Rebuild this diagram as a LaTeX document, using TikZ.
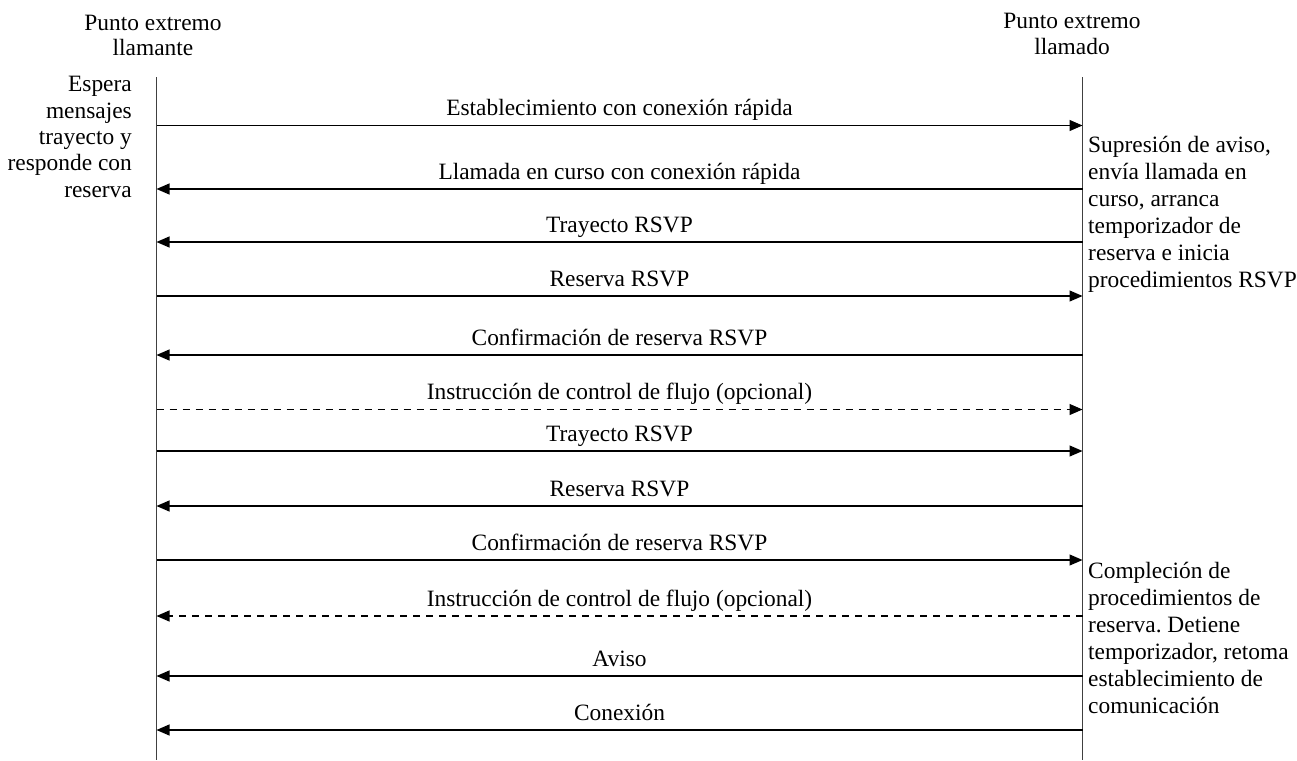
\documentclass[tikz,border=0pt]{standalone}
\usepackage{fontspec}
\setmainfont{Liberation Serif}
\usetikzlibrary{arrows.meta}
\frenchspacing
\begin{document}
\begin{tikzpicture}[x=1pt,y=-1pt,
  font=\fontsize{23.4}{26.5}\selectfont,
  life/.style={line width=1.1pt,draw=black!75},
  msg/.style={line width=1.1pt,-{Triangle[length=13pt,width=11pt]}},
  opt/.style={msg,dash pattern=on 7pt off 6pt},
  lbl/.style={anchor=base,yshift=10pt,inner sep=0pt},
  note/.style={inner sep=0pt,font=\fontsize{23.4}{27}\selectfont}]
\useasboundingbox (0,0) rectangle (1297,760);
% headers (anchor base = baseline of last line)
\node[anchor=base,align=center,inner sep=0pt,font=\fontsize{23.4}{25.5}\selectfont] (hL) at (153,56) {Punto extremo\\llamante};
\node[anchor=base,align=center,inner sep=0pt,font=\fontsize{23.4}{26.5}\selectfont] (hR) at (1072,55) {Punto extremo\\llamado};
% lifelines
\coordinate (Ltop) at (156.5,77);
\coordinate (Lbot) at (156.5,760);
\coordinate (Rtop) at (1082.5,77);
\coordinate (Rbot) at (1082.5,760);
\draw[life] (Ltop) -- (Lbot);
\draw[life] (Rtop) -- (Rbot);
% notes
\node[note,anchor=base east,align=right,font=\fontsize{23.4}{26.3}\selectfont] (nL) at (132,197)
  {Espera\\mensajes\\trayecto y\\responde con\\reserva};
\node[note,anchor=base west,align=left] (nR1) at (1088,287)
  {Supresión de aviso,\\envía llamada en\\curso, arranca\\temporizador de\\reserva e inicia\\procedimientos RSVP};
\node[note,anchor=base west,align=left] (nR2) at (1088,713)
  {Compleción de\\procedimientos de\\reserva. Detiene\\temporizador, retoma\\establecimiento de\\comunicación};
% message anchors
\foreach \i/\y in {1/125.5,2/189,3/242,4/296,5/355,6/409.5,7/451,8/506,9/560,10/616,11/676,12/730}{
  \coordinate (L\i) at (156.5,\y);
  \coordinate (R\i) at (1082.5,\y);
}
\draw[msg] (L1) -- node[lbl] {Establecimiento con conexión rápida} (R1);
\draw[msg] (R2) -- node[lbl] {Llamada en curso con conexión rápida} (L2);
\draw[msg] (R3) -- node[lbl] {Trayecto RSVP} (L3);
\draw[msg] (L4) -- node[lbl] {Reserva RSVP} (R4);
\draw[msg] (R5) -- node[lbl] {Confirmación de reserva RSVP} (L5);
\draw[opt] (L6) -- node[lbl] {Instrucción de control de flujo (opcional)} (R6);
\draw[msg] (L7) -- node[lbl] {Trayecto RSVP} (R7);
\draw[msg] (R8) -- node[lbl] {Reserva RSVP} (L8);
\draw[msg] (L9) -- node[lbl] {Confirmación de reserva RSVP} (R9);
\draw[opt] (R10) -- node[lbl] {Instrucción de control de flujo (opcional)} (L10);
\draw[msg] (R11) -- node[lbl] {Aviso} (L11);
\draw[msg] (R12) -- node[lbl] {Conexión} (L12);
\end{tikzpicture}
\end{document}
